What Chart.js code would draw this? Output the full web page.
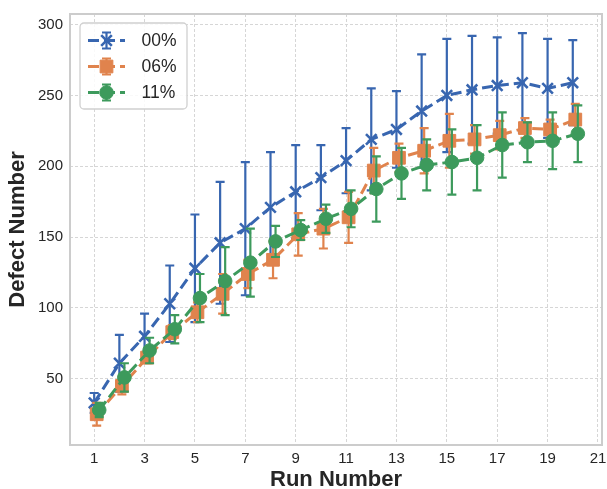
<!DOCTYPE html>
<html>
<head>
<meta charset="utf-8">
<script src="https://cdn.jsdelivr.net/npm/chart.js@4.4.1/dist/chart.umd.min.js"></script>
<style>
  html, body { margin: 0; padding: 0; background: #ffffff; overflow: hidden; }
  #wrap { width: 607px; height: 489px; }
  canvas { display: block; }
</style>
</head>
<body>
<div id="wrap"><canvas id="chart" width="607" height="489"></canvas></div>
<script>
// Run numbers and per-group defect counts (mean ± spread)
const runs = [1, 2, 3, 4, 5, 6, 7, 8, 9, 10, 11, 12, 13, 14, 15, 16, 17, 18, 19, 20];
const groupNames = ['00%', '06%', '11%'];

const defects00 = [33, 61, 80, 103, 128, 146, 156, 171, 182, 192, 204, 219, 226, 239, 250, 254, 257, 259, 255, 259];
const spread00  = [7, 20, 16, 27, 38, 43, 47, 39, 33, 23, 23, 36, 27, 40, 40, 38, 34, 35, 35, 30];

const defects06 = [25, 45, 65, 83, 97, 110, 124, 134, 152, 156, 164, 197, 206, 211, 218, 219, 222, 227, 226, 233];
const spread06  = [8, 6, 4, 5, 7, 14, 10, 13, 15, 14, 18, 16, 10, 16, 19, 10, 10, 7, 7, 11];

const defects11 = [28, 51, 70, 85, 107, 119, 132, 147, 155, 163, 170, 184, 195, 201, 203, 206, 215, 217, 218, 223];
const spread11  = [5, 10, 9, 10, 17, 24, 24, 11, 7, 10, 13, 23, 18, 18, 23, 23, 23, 14, 20, 20];

// small horizontal shift per group so the error bars do not overlap
const runShift = [0, 0.1, 0.2];

const xTicks = [1, 3, 5, 7, 9, 11, 13, 15, 17, 19, 21];
const yTicks = [50, 100, 150, 200, 250, 300];

const colors = ['#3866b0', '#e0834d', '#3d9a5c'];
const textColor = '#262626';

Chart.defaults.font.family = "'Liberation Sans', Arial, Helvetica, sans-serif";

function points(values, shift) {
  return values.map((v, i) => ({ x: runs[i] + shift, y: v }));
}

const styles = [
  { pointStyle: 'crossRot', pointRadius: 7.5, pointBorderWidth: 2.6 },
  { pointStyle: 'rect', pointRadius: 9, pointBorderWidth: 1 },
  { pointStyle: 'circle', pointRadius: 6.8, pointBorderWidth: 1 }
];

const seriesValues = [defects00, defects06, defects11];
const seriesSpread = [spread00, spread06, spread11];

const datasets = groupNames.map((name, k) => ({
  label: name,
  data: points(seriesValues[k], runShift[k]),
  errors: seriesSpread[k],
  borderColor: colors[k],
  backgroundColor: colors[k],
  pointBackgroundColor: colors[k],
  pointBorderColor: colors[k],
  borderWidth: 3,
  borderDash: [11, 5],
  fill: false,
  tension: 0,
  order: 3 - k,
  ...styles[k]
}));

// vertical error bars with caps, drawn just under each series' own line
const errorBars = {
  id: 'errorBars',
  beforeDatasetDraw(chart, args) {
    const ds = chart.data.datasets[args.index];
    const yScale = chart.scales.y;
    const ctx = chart.ctx;
    const cap = 4.5;
    ctx.save();
    ctx.strokeStyle = ds.borderColor;
    ctx.lineWidth = 2.2;
    ctx.setLineDash([]);
    args.meta.data.forEach((pt, i) => {
      const v = ds.data[i].y;
      const e = ds.errors[i];
      const top = yScale.getPixelForValue(v + e);
      const bot = yScale.getPixelForValue(v - e);
      ctx.beginPath();
      ctx.moveTo(pt.x, top); ctx.lineTo(pt.x, bot);
      ctx.moveTo(pt.x - cap, top); ctx.lineTo(pt.x + cap, top);
      ctx.moveTo(pt.x - cap, bot); ctx.lineTo(pt.x + cap, bot);
      ctx.stroke();
    });
    ctx.restore();
  }
};

// light frame around the plotting area
const frame = {
  id: 'frame',
  beforeDatasetsDraw(chart) {
    const { ctx, chartArea: a } = chart;
    ctx.save();
    ctx.strokeStyle = '#cccccc';
    ctx.lineWidth = 2;
    ctx.strokeRect(a.left, a.top, a.right - a.left, a.bottom - a.top);
    ctx.restore();
  }
};

// legend box with line + marker + error bar handles
const groupLegend = {
  id: 'groupLegend',
  afterDraw(chart) {
    const ctx = chart.ctx;
    const box = { x: 80, y: 23, w: 107, h: 86, r: 4 };
    ctx.save();
    ctx.beginPath();
    ctx.roundRect(box.x, box.y, box.w, box.h, box.r);
    ctx.fillStyle = 'rgba(255,255,255,0.85)';
    ctx.fill();
    ctx.strokeStyle = '#d0d0d0';
    ctx.lineWidth = 1.3;
    ctx.stroke();

    const rowY = [40.5, 66.5, 92.5];
    const x0 = 88, x1 = 125, xm = (x0 + x1) / 2;
    chart.data.datasets.forEach((ds, k) => {
      const y = rowY[k];
      ctx.strokeStyle = ds.borderColor;
      ctx.fillStyle = ds.borderColor;
      // dashed line
      ctx.lineWidth = 3;
      ctx.setLineDash(ds.borderDash);
      ctx.beginPath();
      ctx.moveTo(x0, y); ctx.lineTo(x1, y);
      ctx.stroke();
      ctx.setLineDash([]);
      // error bar
      ctx.lineWidth = 2.2;
      ctx.beginPath();
      ctx.moveTo(xm, y - 8); ctx.lineTo(xm, y + 8);
      ctx.moveTo(xm - 4.5, y - 8); ctx.lineTo(xm + 4.5, y - 8);
      ctx.moveTo(xm - 4.5, y + 8); ctx.lineTo(xm + 4.5, y + 8);
      ctx.stroke();
      // marker
      ctx.lineWidth = ds.pointBorderWidth;
      Chart.helpers.drawPoint(ctx, {
        pointStyle: ds.pointStyle,
        radius: ds.pointRadius,
        rotation: 0,
        borderWidth: ds.pointBorderWidth
      }, xm, y);
      // label
      ctx.fillStyle = textColor;
      ctx.font = "17.5px 'Liberation Sans', Arial, sans-serif";
      ctx.textBaseline = 'middle';
      ctx.textAlign = 'left';
      ctx.fillText(ds.label, 141.5, y + 0.5);
    });
    ctx.restore();
  }
};

new Chart(document.getElementById('chart'), {
  type: 'line',
  data: { datasets },
  plugins: [errorBars, frame, groupLegend],
  options: {
    responsive: false,
    animation: false,
    devicePixelRatio: 1,
    layout: { autoPadding: false, padding: { top: 14, right: 5, left: 0, bottom: 0 } },
    plugins: {
      legend: { display: false },
      tooltip: { enabled: false }
    },
    scales: {
      x: {
        type: 'linear',
        min: 0.04,
        max: 21.16,
        afterBuildTicks: s => { s.ticks = xTicks.map(v => ({ value: v })); },
        afterFit: s => { s.height = 44; s.paddingLeft = 0; s.paddingRight = 0; },
        grid: { color: '#d6d6d6', lineWidth: 1, drawTicks: false, tickLength: 0 },
        border: { display: false, dash: [3, 2] },
        ticks: {
          autoSkip: false, maxRotation: 0, padding: 5,
          color: textColor, font: { size: 15 },
          callback: v => String(v)
        },
        title: {
          display: true, text: 'Run Number', color: textColor,
          font: { size: 22, weight: 'bold' },
          padding: { top: 0, bottom: -4 }
        }
      },
      y: {
        type: 'linear',
        min: 3.3,
        max: 307.5,
        afterBuildTicks: s => { s.ticks = yTicks.map(v => ({ value: v })); },
        afterFit: s => { s.width = 70; s.paddingTop = 0; s.paddingBottom = 0; },
        grid: { color: '#d6d6d6', lineWidth: 1, drawTicks: false, tickLength: 0 },
        border: { display: false, dash: [3, 2] },
        ticks: {
          padding: 7, color: textColor, font: { size: 15 },
          callback: v => String(v)
        },
        title: {
          display: true, text: 'Defect Number', color: textColor,
          font: { size: 22, weight: 'bold' },
          padding: { top: 5, bottom: 0 }
        }
      }
    }
  }
});
</script>
</body>
</html>
